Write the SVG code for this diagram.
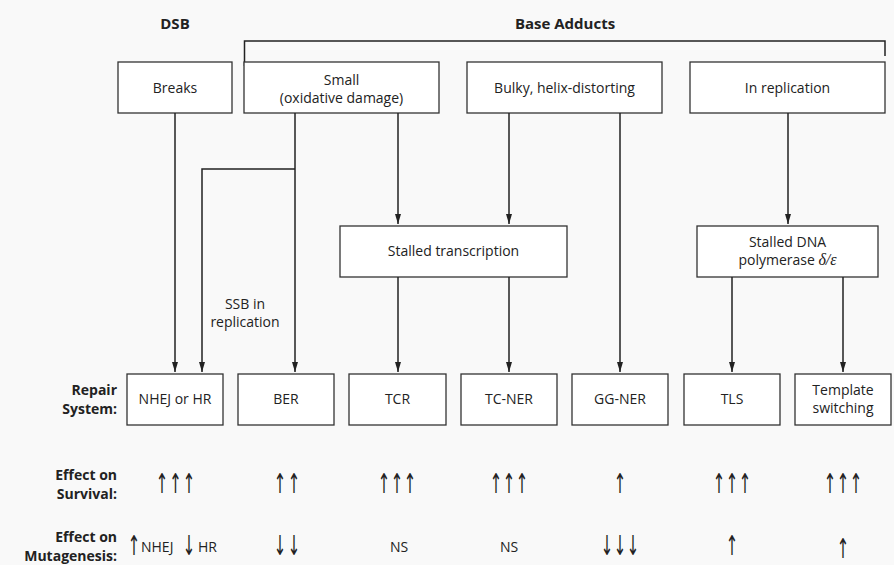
<svg xmlns="http://www.w3.org/2000/svg" width="894" height="565" viewBox="0 0 894 565">
<defs>
<style>
.bg{fill:#f9f9f9}
.box{fill:#fff;stroke:#333;stroke-width:1.3}
.t{font-family:"Open Sans","Liberation Sans",sans-serif;font-size:14px;fill:#222;text-anchor:middle}
.ts{font-family:"Open Sans","Liberation Sans",sans-serif;font-size:14px;fill:#222;text-anchor:start}
.h{font-family:"Open Sans","Liberation Sans",sans-serif;font-size:15px;font-weight:bold;fill:#222;text-anchor:middle}
.lbl{font-family:"Open Sans","Liberation Sans",sans-serif;font-size:14px;font-weight:bold;fill:#222;text-anchor:end}
.ln{stroke:#222;stroke-width:1.5;fill:none}
.arr{marker-end:url(#ah)}
.sym{font-family:"Noto Sans","DejaVu Sans",sans-serif;font-size:21px;fill:#222;text-anchor:middle}
.gr{font-family:"Liberation Serif",serif;font-style:italic}
</style>
<marker id="ah" markerWidth="10" markerHeight="6" refX="10" refY="3" orient="auto" markerUnits="userSpaceOnUse">
<path d="M0,0 L10,3 L0,6 z" fill="#222"/>
</marker>
</defs>
<rect class="bg" x="0" y="0" width="894" height="565"/>

<g id="titles">
<text class="h" x="175" y="29">DSB</text>
<text class="h" x="565" y="29">Base Adducts</text>
</g>
<g id="bracket">
<path class="ln" d="M244.5,66 V41 H885 V56"/>
</g>

<g id="breaks">
<rect class="box" x="118" y="62" width="114" height="51"/>
<text class="t" x="175" y="93">Breaks</text>
</g>
<g id="small">
<rect class="box" x="244" y="62" width="195" height="51"/>
<text class="t" x="341.5" y="85">Small</text>
<text class="t" x="341.5" y="103">(oxidative damage)</text>
</g>
<g id="bulky">
<rect class="box" x="467" y="62" width="195" height="51"/>
<text class="t" x="564.5" y="93">Bulky, helix-distorting</text>
</g>
<g id="inrep">
<rect class="box" x="690" y="62" width="195" height="51"/>
<text class="t" x="787.5" y="93">In replication</text>
</g>

<g id="stalledtx">
<rect class="box" x="340" y="226" width="227" height="51"/>
<text class="t" x="453.5" y="256">Stalled transcription</text>
</g>
<g id="stalledpol">
<rect class="box" x="697" y="226" width="181" height="51"/>
<text class="t" x="787.5" y="247">Stalled DNA</text>
<text class="t" x="787.5" y="265">polymerase <tspan class="gr" style="font-size:16px">δ/ε</tspan></text>
</g>

<g id="ssb">
<text class="t" x="245" y="309">SSB in</text>
<text class="t" x="245" y="327">replication</text>
</g>

<g id="connectors">
<path class="ln arr" d="M175,113 V372"/>
<path class="ln arr" d="M295,113 V372"/>
<path class="ln arr" d="M295,169 H202 V372"/>
<path class="ln arr" d="M398,113 V224"/>
<path class="ln arr" d="M509,113 V224"/>
<path class="ln arr" d="M620,113 V372"/>
<path class="ln arr" d="M788,113 V224"/>
<path class="ln arr" d="M398,277 V372"/>
<path class="ln arr" d="M509,277 V372"/>
<path class="ln arr" d="M732,277 V372"/>
<path class="ln arr" d="M843,277 V372"/>
</g>

<g id="rowlabels">
<text class="lbl" x="117" y="395">Repair</text>
<text class="lbl" x="117" y="414">System:</text>
<text class="lbl" x="117" y="480">Effect on</text>
<text class="lbl" x="117" y="499">Survival:</text>
<text class="lbl" x="117" y="542">Effect on</text>
<text class="lbl" x="117" y="561">Mutagenesis:</text>
</g>

<g id="nhej">
<rect class="box" x="127" y="374" width="96" height="51"/>
<text class="t" x="175" y="404">NHEJ or HR</text>
</g>
<g id="ber">
<rect class="box" x="238" y="374" width="96" height="51"/>
<text class="t" x="286" y="404">BER</text>
</g>
<g id="tcr">
<rect class="box" x="349" y="374" width="97" height="51"/>
<text class="t" x="397.5" y="404">TCR</text>
</g>
<g id="tcner">
<rect class="box" x="461" y="374" width="96" height="51"/>
<text class="t" x="509" y="404">TC-NER</text>
</g>
<g id="ggner">
<rect class="box" x="572" y="374" width="96" height="51"/>
<text class="t" x="620" y="404">GG-NER</text>
</g>
<g id="tls">
<rect class="box" x="684" y="374" width="96" height="51"/>
<text class="t" x="732" y="404">TLS</text>
</g>
<g id="template">
<rect class="box" x="795" y="374" width="96" height="51"/>
<text class="t" x="843" y="395">Template</text>
<text class="t" x="843" y="413">switching</text>
</g>

<g id="survival">
<text class="sym" transform="translate(162,493) scale(0.72,1.3)">↑</text>
<text class="sym" transform="translate(175.5,493) scale(0.72,1.3)">↑</text>
<text class="sym" transform="translate(189,493) scale(0.72,1.3)">↑</text>
<text class="sym" transform="translate(280,493) scale(0.72,1.3)">↑</text>
<text class="sym" transform="translate(294,493) scale(0.72,1.3)">↑</text>
<text class="sym" transform="translate(384,493) scale(0.72,1.3)">↑</text>
<text class="sym" transform="translate(397,493) scale(0.72,1.3)">↑</text>
<text class="sym" transform="translate(410,493) scale(0.72,1.3)">↑</text>
<text class="sym" transform="translate(496,493) scale(0.72,1.3)">↑</text>
<text class="sym" transform="translate(509,493) scale(0.72,1.3)">↑</text>
<text class="sym" transform="translate(522,493) scale(0.72,1.3)">↑</text>
<text class="sym" transform="translate(620,493) scale(0.72,1.3)">↑</text>
<text class="sym" transform="translate(719,493) scale(0.72,1.3)">↑</text>
<text class="sym" transform="translate(732,493) scale(0.72,1.3)">↑</text>
<text class="sym" transform="translate(745,493) scale(0.72,1.3)">↑</text>
<text class="sym" transform="translate(830,493) scale(0.72,1.3)">↑</text>
<text class="sym" transform="translate(843,493) scale(0.72,1.3)">↑</text>
<text class="sym" transform="translate(856,493) scale(0.72,1.3)">↑</text>
</g>

<g id="mutagenesis">
<text class="sym" transform="translate(134,555) scale(0.72,1.3)">↑</text>
<text class="ts" x="141" y="552">NHEJ</text>
<text class="sym" transform="translate(189,555) scale(0.72,1.3)">↓</text>
<text class="ts" x="198" y="552">HR</text>
<text class="sym" transform="translate(280,555) scale(0.72,1.3)">↓</text>
<text class="sym" transform="translate(294,555) scale(0.72,1.3)">↓</text>
<text class="t" x="399" y="552">NS</text>
<text class="t" x="509" y="552">NS</text>
<text class="sym" transform="translate(607,555) scale(0.72,1.3)">↓</text>
<text class="sym" transform="translate(620,555) scale(0.72,1.3)">↓</text>
<text class="sym" transform="translate(633,555) scale(0.72,1.3)">↓</text>
<text class="sym" transform="translate(732,555) scale(0.72,1.3)">↑</text>
<text class="sym" transform="translate(843,558) scale(0.72,1.3)">↑</text>
</g>
</svg>
